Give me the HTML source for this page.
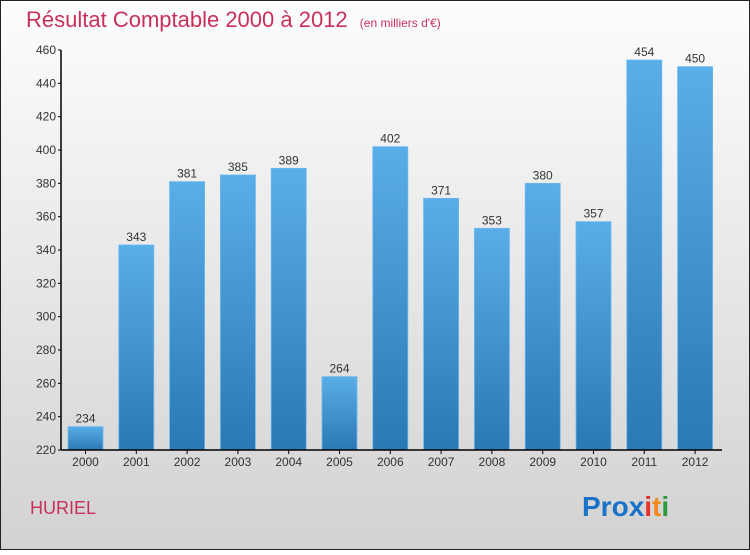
<!DOCTYPE html>
<html><head><meta charset="utf-8"><style>
body{margin:0;width:750px;height:550px;overflow:hidden;font-family:"Liberation Sans",sans-serif}
</style></head><body>
<svg width="750" height="550" xmlns="http://www.w3.org/2000/svg">
<defs>
<linearGradient id="bg" x1="0" y1="0" x2="0" y2="1"><stop offset="0" stop-color="#fdfdfd"/><stop offset="1" stop-color="#d2d2d2"/></linearGradient>
<linearGradient id="bar" x1="0" y1="0" x2="0" y2="1"><stop offset="0" stop-color="#5aaee8"/><stop offset="1" stop-color="#2a78b4"/></linearGradient>
</defs>
<rect x="0.5" y="0.5" width="749" height="549" fill="url(#bg)" stroke="#222"/>
<text x="26" y="27" font-size="22" fill="#c8305a">Résultat Comptable 2000 à 2012 <tspan font-size="12" dx="6">(en milliers d'€)</tspan></text>
<g id="yaxis"></g>
<g id="bars"></g>
<g id="xaxis"></g>
<text x="30" y="514" font-size="18" fill="#c8305a">HURIEL</text>
<text x="582" y="516" font-size="28" font-weight="bold"><tspan fill="#1a73c8">Pro</tspan><tspan fill="#1a73c8">x</tspan><tspan fill="#e8322a">i</tspan><tspan fill="#f08a1c">t</tspan><tspan fill="#2a9a3a">i</tspan></text>
</svg>
<script>
const years=["2000","2001","2002","2003","2004","2005","2006","2007","2008","2009","2010","2011","2012"];
const values=[234,343,381,385,389,264,402,371,353,380,357,454,450];
const yTicks=[220,240,260,280,300,320,340,360,380,400,420,440,460];
const NS="http://www.w3.org/2000/svg";
const y0=450,y1=50,vmin=220,vmax=460;
function Y(v){return y0-(v-vmin)/(vmax-vmin)*(y0-y1);}
function X(i){return 85.5+i*50.8;}
function mk(t,a,p){const e=document.createElementNS(NS,t);for(const k in a)e.setAttribute(k,a[k]);p.appendChild(e);return e;}
const ya=document.getElementById('yaxis'),ba=document.getElementById('bars'),xa=document.getElementById('xaxis');
mk('line',{x1:61,y1:50,x2:61,y2:450,stroke:'#000','stroke-width':1.5},ya);
yTicks.forEach(v=>{
  const l=mk('line',{x1:58,x2:61,y1:Y(v),y2:Y(v),stroke:'#000'},ya);
  
  
  const t=mk('text',{x:56,y:Y(v)+4,'text-anchor':'end','font-size':12,fill:'#333'},ya);
  t.textContent=v;
  
  
});
mk('line',{x1:61,y1:450,x2:722,y2:450,stroke:'#000','stroke-width':1.5},xa);
values.forEach((v,i)=>{
  const r=mk('rect',{x:X(i)-17.5,y:Y(v),width:35,height:y0-Y(v),fill:'url(#bar)',stroke:'#6ab8ee','stroke-width':0.8},ba);
  
  
  const t=mk('text',{x:X(i),y:Y(v)-4,'text-anchor':'middle','font-size':12,fill:'#333'},ba);
  t.textContent=v;
  
  
  const k=mk('line',{x1:X(i),x2:X(i),y1:450,y2:454,stroke:'#000'},xa);
  
  
  const xl=mk('text',{x:X(i),y:466,'text-anchor':'middle','font-size':12,fill:'#333'},xa);
  xl.textContent=years[i];
  
  
});
</script>
</body></html>
